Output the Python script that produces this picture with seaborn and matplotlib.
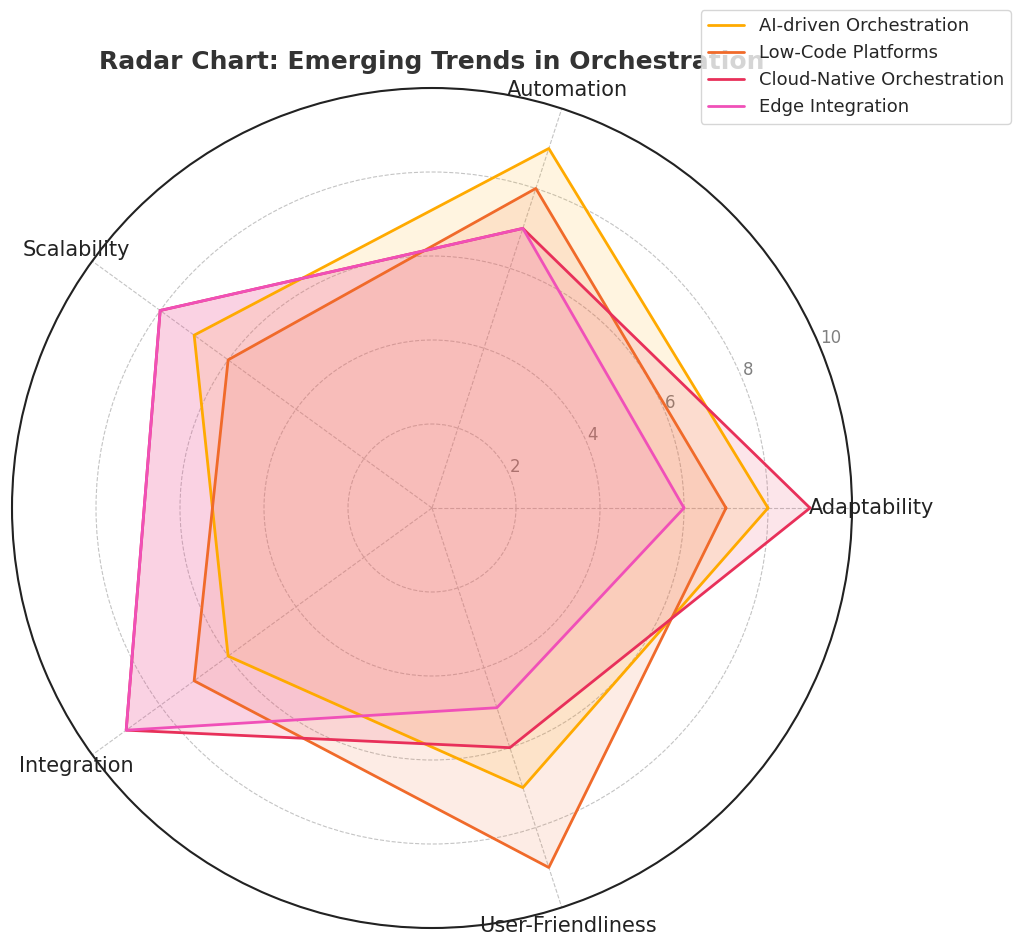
import numpy as np
import seaborn as sns
import matplotlib
matplotlib.use("Agg")
import matplotlib.pyplot as plt

# data
categories = ['Adaptability', 'Automation', 'Scalability', 'Integration', 'User-Friendliness']
series_names = ['AI-driven Orchestration', 'Low-Code Platforms',
                'Cloud-Native Orchestration', 'Edge Integration']
ai_driven = [8, 9, 7, 6, 7]
low_code = [7, 8, 6, 7, 9]
cloud_native = [9, 7, 8, 9, 6]
edge = [6, 7, 8, 9, 5]
r_ticks = [2, 4, 6, 8, 10]

colors = ['#FFAA00', '#F06A2A', '#E8305A', '#F050B8']

sns.set_theme(style='white')
plt.rcParams['font.family'] = ['DejaVu Sans']

fig = plt.figure(figsize=(10.24, 9.48), dpi=100)
ax = fig.add_axes([12 / 1024, 20 / 948, 840 / 1024, 840 / 948], polar=True)

angles = np.linspace(0, 2 * np.pi, len(categories), endpoint=False)
# close the polygon at 2*pi so seaborn doesn't merge duplicate x values
closed_angles = np.concatenate([angles, [2 * np.pi]])

for name, vals, col in zip(series_names,
                           [ai_driven, low_code, cloud_native, edge], colors):
    v = np.concatenate([vals, vals[:1]])
    sns.lineplot(x=closed_angles, y=v, ax=ax, sort=False, color=col,
                 linewidth=2, label=name)
    ax.fill(closed_angles, v, color=col, alpha=0.12)

ax.set_ylim(0, 10)
ax.set_yticks(r_ticks)
ax.set_yticklabels([str(t) for t in r_ticks], color='#808080', fontsize=12)
ax.set_rlabel_position(22.5)
ax.set_xticks(angles)
ax.set_xticklabels(categories, fontsize=15, color='#222222')
ax.tick_params(axis='x', pad=1)
ax.set_xlabel('')
ax.set_ylabel('')
ax.grid(True, color='#C4C4C4', linestyle='--', linewidth=0.8)
ax.spines['polar'].set_color('#222222')
ax.spines['polar'].set_linewidth(1.5)

ax.set_title('Radar Chart: Emerging Trends in Orchestration', fontsize=18,
             fontweight='bold', color='#333333', pad=14)

ax.get_legend().remove()
handles, labels = ax.get_legend_handles_labels()
leg = fig.legend(handles, labels, loc='upper right',
                 bbox_to_anchor=(1011 / 1024, 1 - 10 / 948), borderaxespad=0,
                 fontsize=13, frameon=True)
leg.get_frame().set_edgecolor('#CCCCCC')

fig.savefig('out.png', dpi=100)
